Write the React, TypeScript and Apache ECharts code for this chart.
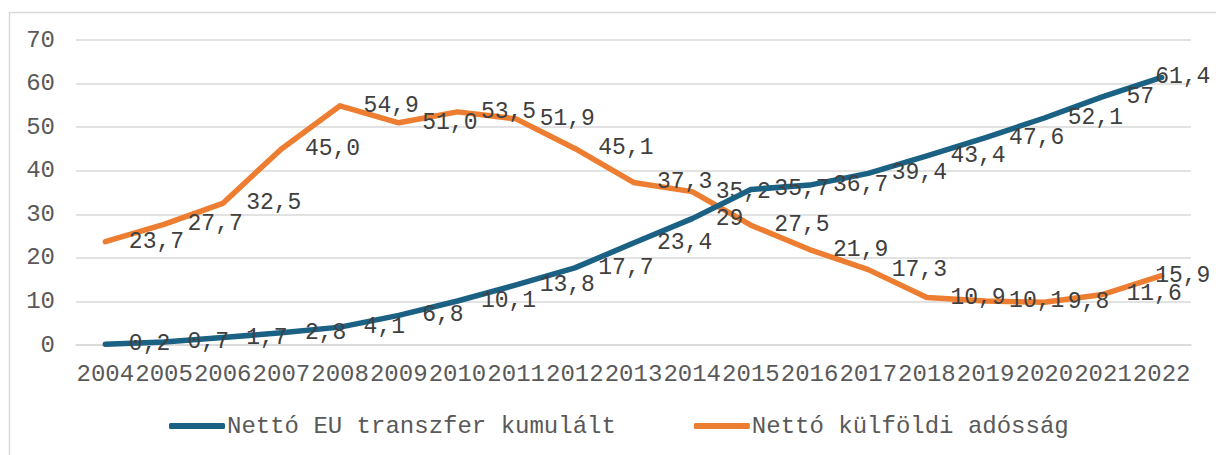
import React, { useEffect, useRef } from "react";
import * as echarts from "echarts";

const years = ["2004","2005","2006","2007","2008","2009","2010","2011","2012","2013","2014","2015","2016","2017","2018","2019","2020","2021","2022"];
const euTransfer = [0.2,0.7,1.7,2.8,4.1,6.8,10.1,13.8,17.7,23.4,29,35.7,36.7,39.4,43.4,47.6,52.1,57,61.4];
const foreignDebt = [23.7,27.7,32.5,45.0,54.9,51.0,53.5,51.9,45.1,37.3,35.2,27.5,21.9,17.3,10.9,10.1,9.8,11.6,15.9];
const seriesNames = ["Nettó EU transzfer kumulált", "Nettó külföldi adósság"];
const yTicks = { min: 0, max: 70, interval: 10 };

const FONT = "'Liberation Mono', 'DejaVu Sans Mono', monospace";
const BLUE = "#1a6184";
const ORANGE = "#ed7d31";

function withLastShift(values: number[]) {
  return values.map((v, i) =>
    i === values.length - 1 ? { value: v, label: { offset: [-30, 0] } } : v
  );
}

export default function App() {
  const ref = useRef<HTMLDivElement>(null);
  useEffect(() => {
    if (!ref.current) return;
    const chart = echarts.init(ref.current, null, { renderer: "svg" });
    const labelBase = {
      show: true,
      position: "right",
      distance: 23,
      color: "#404040",
      fontFamily: FONT,
      fontSize: 23,
    };
    chart.setOption({
      animation: false,
      backgroundColor: "#ffffff",
      graphic: [
        {
          type: "rect",
          shape: { x: 9.5, y: 12.5, width: 1220, height: 460 },
          style: { fill: "none", stroke: "#d9d9d9", lineWidth: 1.5 },
          silent: true,
        },
      ],
      grid: { left: 76, right: 25, top: 40, bottom: 110, containLabel: false },
      legend: {
        left: 164,
        top: 409,
        itemWidth: 56,
        itemHeight: 6,
        itemGap: 78,
        icon: "roundRect",
        textStyle: { fontFamily: FONT, fontSize: 24, color: "#595959", padding: [0, 0, 0, -3] },
        data: seriesNames,
      },
      xAxis: {
        type: "category",
        data: years,
        boundaryGap: true,
        axisLine: { show: true, lineStyle: { color: "#d9d9d9", width: 1.5 } },
        axisTick: { show: false },
        axisLabel: { interval: 0, margin: 17, color: "#595959", fontFamily: FONT, fontSize: 24 },
      },
      yAxis: {
        type: "value",
        min: yTicks.min,
        max: yTicks.max,
        interval: yTicks.interval,
        axisLine: { show: false },
        axisTick: { show: false },
        splitLine: { lineStyle: { color: "#d9d9d9", width: 1.5 } },
        axisLabel: { margin: 21, color: "#595959", fontFamily: FONT, fontSize: 24 },
      },
      series: [
        {
          name: seriesNames[0],
          type: "line",
          data: withLastShift(euTransfer),
          symbol: "circle",
          symbolSize: 1,
          showSymbol: true,
          lineStyle: { color: BLUE, width: 5.5, cap: "round", join: "round" },
          itemStyle: { color: BLUE },
          label: {
            ...labelBase,
            formatter: (p: any) => String(p.value).replace(".", ","),
          },
          z: 3,
        },
        {
          name: seriesNames[1],
          type: "line",
          data: withLastShift(foreignDebt),
          symbol: "circle",
          symbolSize: 1,
          showSymbol: true,
          lineStyle: { color: ORANGE, width: 5.5, cap: "round", join: "round" },
          itemStyle: { color: ORANGE },
          label: {
            ...labelBase,
            formatter: (p: any) => Number(p.value).toFixed(1).replace(".", ","),
          },
          z: 2,
        },
      ],
    });
    return () => chart.dispose();
  }, []);
  return (
    <div
      ref={ref}
      style={{ position: "absolute", left: 0, top: 0, width: 1216, height: 455 }}
    />
  );
}
